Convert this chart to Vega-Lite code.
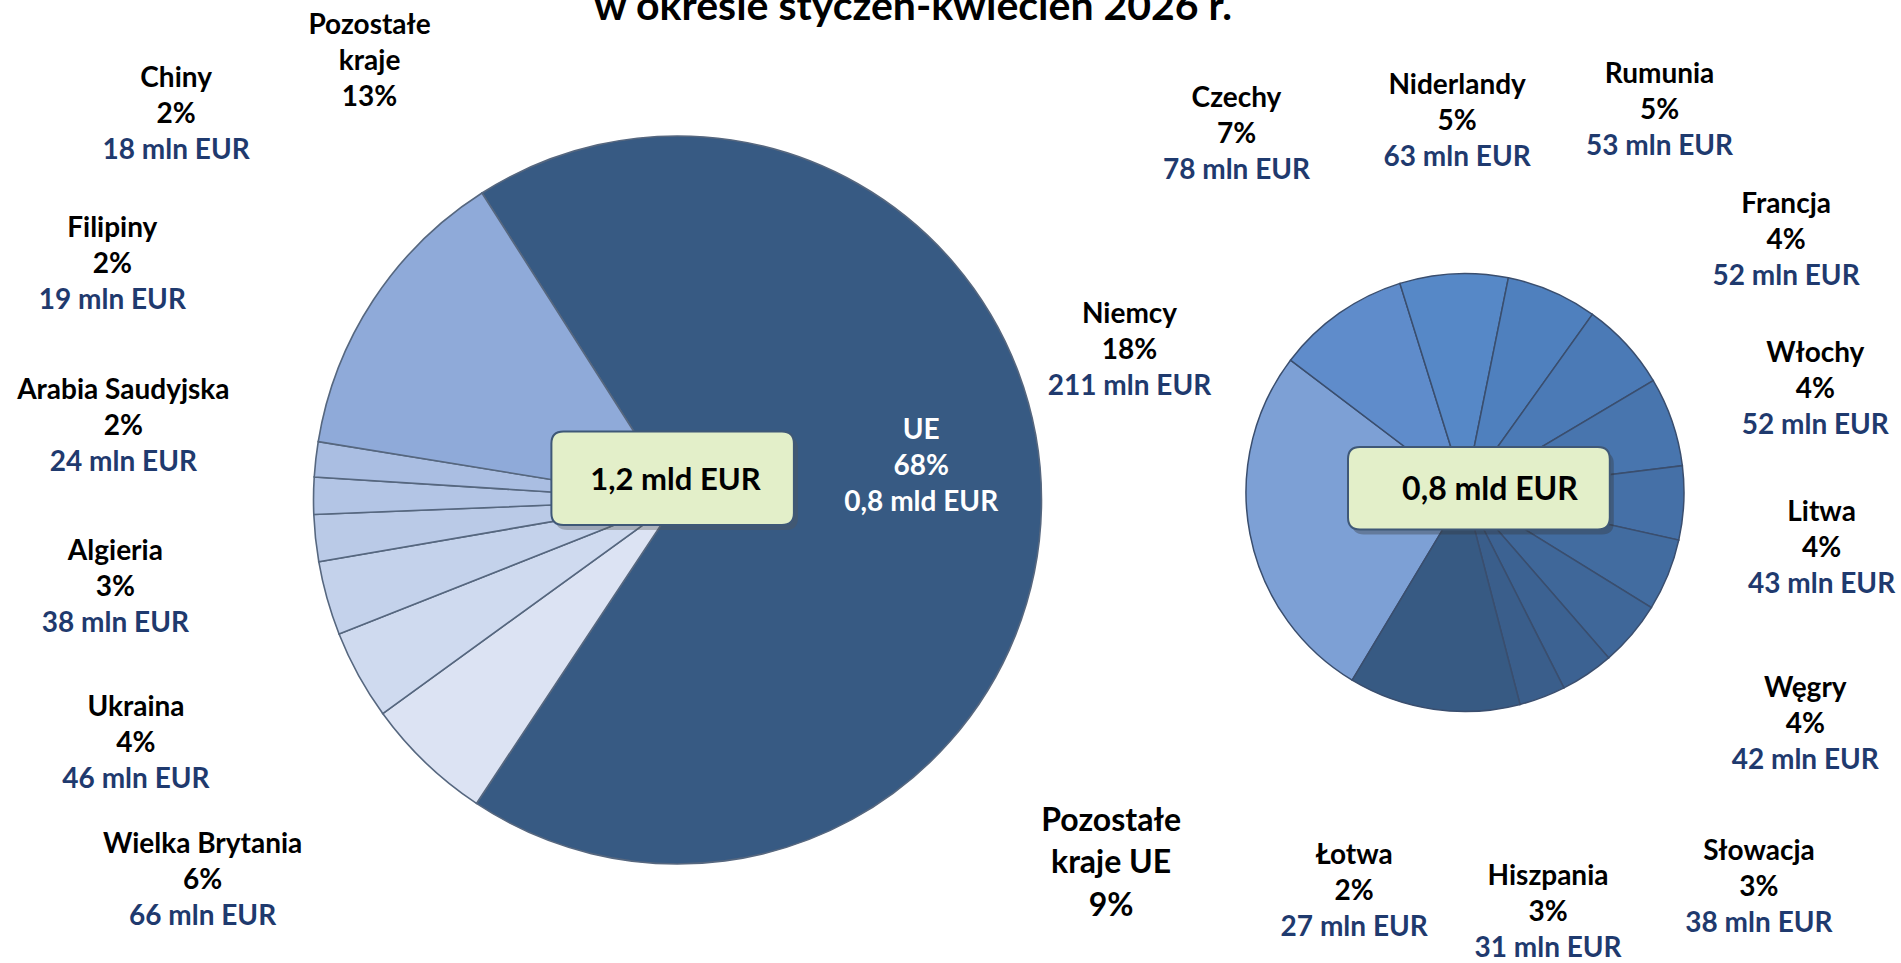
{
  "$schema": "https://vega.github.io/schema/vega-lite/v6.json",
  "padding": {"left": 0, "top": -13, "right": 0, "bottom": 0},
  "background": "white",
  "config": {"view": {"stroke": null}, "font": "Lato", "text": {"font": "Lato", "fontWeight": "bold"}},
  "datasets": {
    "left": [
      {"k": 0, "name": "UE", "value": 790, "pct": "68%", "amt": "0,8 mld EUR"},
      {"k": 1, "name": "Wielka Brytania", "value": 66, "pct": "6%", "amt": "66 mln EUR"},
      {"k": 2, "name": "Ukraina", "value": 46, "pct": "4%", "amt": "46 mln EUR"},
      {"k": 3, "name": "Algieria", "value": 38, "pct": "3%", "amt": "38 mln EUR"},
      {"k": 4, "name": "Arabia Saudyjska", "value": 24, "pct": "2%", "amt": "24 mln EUR"},
      {"k": 5, "name": "Filipiny", "value": 19, "pct": "2%", "amt": "19 mln EUR"},
      {"k": 6, "name": "Chiny", "value": 18, "pct": "2%", "amt": "18 mln EUR"},
      {"k": 7, "name": "Pozostałe\nkraje", "value": 155, "pct": "13%", "amt": null}
    ],
    "right": [
      {"k": 1, "name": "Niemcy", "value": 211, "pct": "18%", "amt": "211 mln EUR"},
      {"k": 2, "name": "Czechy", "value": 78, "pct": "7%", "amt": "78 mln EUR"},
      {"k": 3, "name": "Niderlandy", "value": 63, "pct": "5%", "amt": "63 mln EUR"},
      {"k": 4, "name": "Rumunia", "value": 53, "pct": "5%", "amt": "53 mln EUR"},
      {"k": 5, "name": "Francja", "value": 52, "pct": "4%", "amt": "52 mln EUR"},
      {"k": 6, "name": "Włochy", "value": 52, "pct": "4%", "amt": "52 mln EUR"},
      {"k": 7, "name": "Litwa", "value": 43, "pct": "4%", "amt": "43 mln EUR"},
      {"k": 8, "name": "Węgry", "value": 42, "pct": "4%", "amt": "42 mln EUR"},
      {"k": 9, "name": "Słowacja", "value": 38, "pct": "3%", "amt": "38 mln EUR"},
      {"k": 10, "name": "Hiszpania", "value": 31, "pct": "3%", "amt": "31 mln EUR"},
      {"k": 11, "name": "Łotwa", "value": 27, "pct": "2%", "amt": "27 mln EUR"},
      {"k": 12, "name": "Pozostałe\nkraje UE", "value": 100, "pct": "9%", "amt": null}
    ]
  },
  "spacing": 0,
  "bounds": "flush",
  "resolve": {"scale": {"color": "independent", "theta": "independent", "radius": "independent"}},
  "hconcat": [
    {
      "width": 1355,
      "height": 926,
      "data": {"name": "left"},
      "layer": [
        {
          "mark": {"type": "arc", "radius": 364, "stroke": "#56677F", "strokeWidth": 1.6},
          "encoding": {
            "theta": {"field": "value", "type": "quantitative", "stack": true, "scale": {"range": [-0.567, 5.716]}},
            "order": {"field": "k", "type": "quantitative"},
            "color": {"field": "name", "type": "nominal", "legend": null,
              "scale": {"domain": ["UE", "Wielka Brytania", "Ukraina", "Algieria", "Arabia Saudyjska", "Filipiny", "Chiny", "Pozostałe\nkraje"],
                        "range": ["#375A83", "#DCE3F3", "#CFDAEF", "#C4D2EB", "#BACAE7", "#B3C5E5", "#AABEE2", "#8FAAD9"]}}
          }
        },
        {
          "encoding": {
            "theta": {"field": "k", "type": "quantitative", "scale": {"type": "linear", "zero": false, "nice": false, "domain": [0, 1, 2, 3, 4, 5, 6, 7], "range": [1.435, 4.036, 4.289, 4.557, 4.844, 5.106, 5.367, 5.629]}},
            "radius": {"field": "k", "type": "quantitative", "scale": {"type": "linear", "zero": false, "nice": false, "domain": [0, 1, 2, 3, 4, 5, 6, 7], "range": [246, 609, 594, 569, 559, 612, 632, 506]}},
            "color": {"condition": {"test": "datum.k == 0", "value": "#ffffff"}, "value": "#000000"}
          },
          "layer": [
            {"transform": [{"filter": "datum.k < 7"}],
             "mark": {"type": "text", "baseline": "alphabetic", "dy": -28, "fontSize": 28, "fontWeight": "bold", "align": "center"},
             "encoding": {"text": {"field": "name", "type": "nominal"}}},
            {"transform": [{"filter": "datum.k == 7"}],
             "mark": {"type": "text", "baseline": "alphabetic", "dy": -64, "lineHeight": 36, "lineBreak": "\n", "fontSize": 28, "fontWeight": "bold", "align": "center"},
             "encoding": {"text": {"field": "name", "type": "nominal"}}},
            {"mark": {"type": "text", "baseline": "middle", "fontSize": 28, "fontWeight": "bold", "align": "center"},
             "encoding": {"text": {"field": "pct", "type": "nominal"}}},
            {"transform": [{"filter": "isValid(datum.amt)"}],
             "mark": {"type": "text", "baseline": "middle", "dy": 36, "fontSize": 28, "fontWeight": "bold", "align": "center"},
             "encoding": {"text": {"field": "amt", "type": "nominal"},
                          "color": {"condition": {"test": "datum.k == 0", "value": "#ffffff"}, "value": "#1F3A6E"}}}
          ]
        },
        {
          "transform": [{"filter": "datum.k == 0"}],
          "mark": {"type": "point", "shape": "M -1.101 -0.635 L 1.084 -0.635 Q 1.204 -0.635 1.204 -0.515 L 1.204 0.179 Q 1.204 0.299 1.084 0.299 L -1.101 0.299 Q -1.221 0.299 -1.221 0.179 L -1.221 -0.515 Q -1.221 -0.635 -1.101 -0.635 Z",
                   "size": 40000, "filled": true, "fill": "#555555", "opacity": 0.35, "strokeWidth": 0}
        },
        {
          "transform": [{"filter": "datum.k == 0"}],
          "mark": {"type": "point", "shape": "M -1.141 -0.685 L 1.044 -0.685 Q 1.164 -0.685 1.164 -0.565 L 1.164 0.129 Q 1.164 0.249 1.044 0.249 L -1.141 0.249 Q -1.261 0.249 -1.261 0.129 L -1.261 -0.565 Q -1.261 -0.685 -1.141 -0.685 Z",
                   "size": 40000, "filled": true, "fill": "#E3EFC9", "stroke": "#3F5877", "strokeWidth": 2, "opacity": 1}
        },
        {
          "transform": [{"filter": "datum.k == 0"}],
          "mark": {"type": "text", "dx": -2, "dy": -19, "fontSize": 31, "fontWeight": "bold", "baseline": "middle", "align": "center", "color": "#000000"},
          "encoding": {"text": {"value": "1,2 mld EUR"}}
        }
      ],
      "resolve": {"scale": {"theta": "independent", "radius": "independent"}}
    },
    {
      "width": 220,
      "height": 911,
      "data": {"name": "right"},
      "title": {"text": "w okresie styczeń-kwiecień 2026 r.", "anchor": "middle", "frame": "group", "dx": -552, "offset": -24, "baseline": "alphabetic", "fontSize": 41, "fontWeight": "bold", "font": "Lato", "color": "#000000"},
      "layer": [
        {
          "mark": {"type": "arc", "radius": 219, "stroke": "#3A4E6E", "strokeWidth": 1.5},
          "encoding": {
            "theta": {"field": "value", "type": "quantitative", "stack": true, "scale": {"range": [3.683, 9.966]}},
            "order": {"field": "k", "type": "quantitative"},
            "color": {"field": "name", "type": "nominal", "legend": null,
              "scale": {"domain": ["Niemcy", "Czechy", "Niderlandy", "Rumunia", "Francja", "Włochy", "Litwa", "Węgry", "Słowacja", "Hiszpania", "Łotwa", "Pozostałe\nkraje UE"],
                        "range": ["#7DA0D5", "#5F8CCB", "#5688C7", "#4F80BE", "#4B7AB6", "#4875AE", "#4570A7", "#426CA0", "#3F6799", "#3C6292", "#3A5E8B", "#375A83"]}}
          }
        },
        {
          "encoding": {
            "theta": {"field": "k", "type": "quantitative", "scale": {"type": "linear", "zero": false, "nice": false, "domain": [1, 2, 3, 4, 5, 6, 7, 8, 9, 10, 11, 12], "range": [5.111, 5.714, 6.262, 6.755, 7.189, 7.569, 8.011, 8.453, 8.786, 9.230, 9.695, 10.133]}},
            "radius": {"field": "k", "type": "quantitative", "scale": {"type": "linear", "zero": false, "nice": false, "domain": [1, 2, 3, 4, 5, 6, 7, 8, 9, 10, 11, 12], "range": [364, 424, 371, 428, 408, 365, 361, 412, 493, 429, 415, 544]}}
          },
          "layer": [
            {"transform": [{"filter": "datum.k < 12"}],
             "mark": {"type": "text", "baseline": "alphabetic", "dy": -28, "fontSize": 28, "fontWeight": "bold", "align": "center", "color": "#000000"},
             "encoding": {"text": {"field": "name", "type": "nominal"}}},
            {"transform": [{"filter": "datum.k == 12"}],
             "mark": {"type": "text", "baseline": "alphabetic", "dy": -75, "lineHeight": 42, "lineBreak": "\n", "fontSize": 32, "fontWeight": "bold", "align": "center", "color": "#000000"},
             "encoding": {"text": {"field": "name", "type": "nominal"}}},
            {"mark": {"type": "text", "baseline": "middle", "fontWeight": "bold", "align": "center", "color": "#000000"},
             "encoding": {"text": {"field": "pct", "type": "nominal"},
                          "size": {"condition": {"test": "datum.k == 12", "value": 32}, "value": 28}}},
            {"transform": [{"filter": "isValid(datum.amt)"}],
             "mark": {"type": "text", "baseline": "middle", "dy": 36, "fontSize": 28, "fontWeight": "bold", "align": "center", "color": "#1F3A6E"},
             "encoding": {"text": {"field": "amt", "type": "nominal"}}}
          ]
        },
        {
          "transform": [{"filter": "datum.k == 1"}],
          "mark": {"type": "point", "shape": "M -1.01 -0.404 L 1.368 -0.404 Q 1.488 -0.404 1.488 -0.284 L 1.488 0.3 Q 1.488 0.42 1.368 0.42 L -1.01 0.42 Q -1.13 0.42 -1.13 0.3 L -1.13 -0.284 Q -1.13 -0.404 -1.01 -0.404 Z",
                   "size": 40000, "filled": true, "fill": "#333333", "opacity": 0.35, "strokeWidth": 0}
        },
        {
          "transform": [{"filter": "datum.k == 1"}],
          "mark": {"type": "point", "shape": "M -1.05 -0.454 L 1.328 -0.454 Q 1.448 -0.454 1.448 -0.334 L 1.448 0.25 Q 1.448 0.37 1.328 0.37 L -1.05 0.37 Q -1.17 0.37 -1.17 0.25 L -1.17 -0.334 Q -1.17 -0.454 -1.05 -0.454 Z",
                   "size": 40000, "filled": true, "fill": "#E3EFC9", "stroke": "#3F5877", "strokeWidth": 2, "opacity": 1}
        },
        {
          "transform": [{"filter": "datum.k == 1"}],
          "mark": {"type": "text", "dx": 25, "dy": -3, "fontSize": 32, "fontWeight": "bold", "baseline": "middle", "align": "center", "color": "#000000"},
          "encoding": {"text": {"value": "0,8 mld EUR"}}
        }
      ],
      "resolve": {"scale": {"theta": "independent", "radius": "independent"}}
    }
  ]
}
